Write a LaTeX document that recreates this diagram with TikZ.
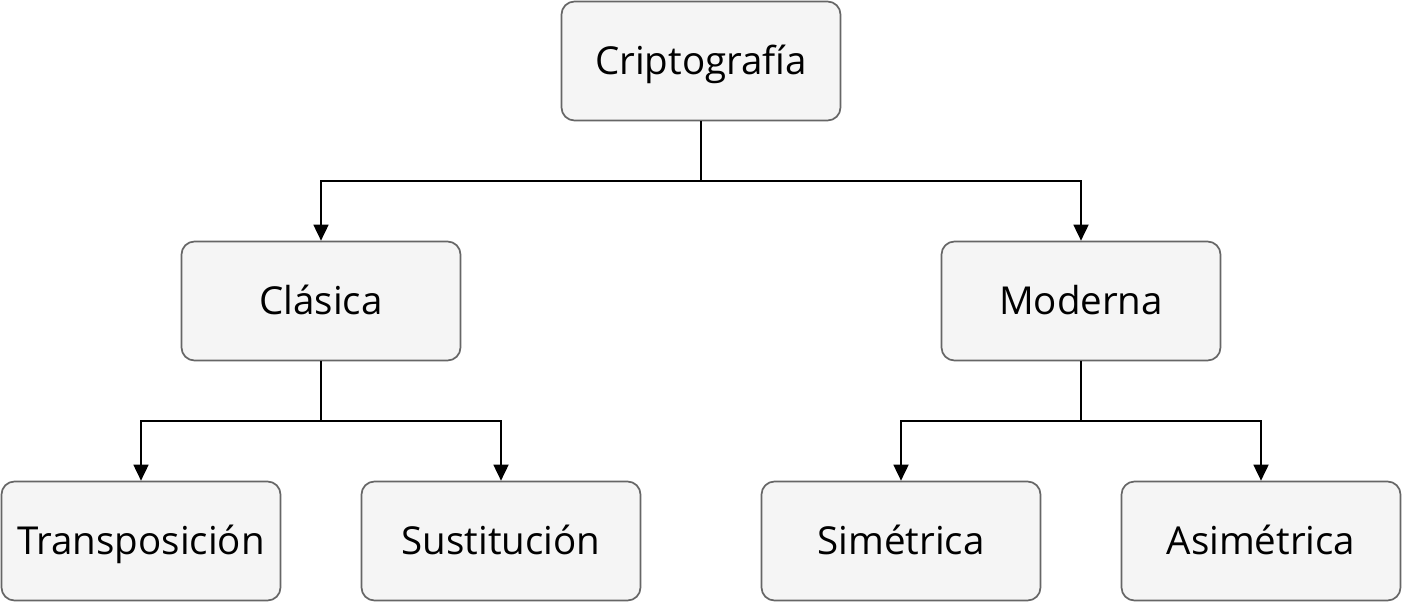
\documentclass[tikz,border=0pt]{standalone}
\usepackage{fontspec}
\setmainfont{Open Sans}
\usetikzlibrary{arrows.meta}
\definecolor{boxfill}{HTML}{F5F5F5}
\definecolor{boxdraw}{HTML}{666666}
\tikzset{
  box/.style={draw=boxdraw, fill=boxfill, rounded corners=13pt, line width=1.7pt,
    minimum width=279pt, minimum height=119pt, inner sep=0pt,
    font=\fontsize{38.5}{44}\selectfont, text=black, text height=27pt, text depth=0pt},
  conn/.style={line width=1.8pt, -{Triangle[length=16pt,width=15pt]}}
}
\begin{document}
\begin{tikzpicture}[x=1pt,y=1pt]
\useasboundingbox (0,0) rectangle (1402,-602);
\node[box] (cr) at (701,-61) {Criptografía};
\node[box] (cl) at (321,-301) {Clásica};
\node[box] (mo) at (1081,-301) {Moderna};
\node[box] (tr) at (141,-541) {Transposición};
\node[box] (su) at (501,-541) {Sustitución};
\node[box] (si) at (901,-541) {Simétrica};
\node[box] (as) at (1261,-541) {Asimétrica};
\draw[conn] (cr.south) -- ++(0,-60) -| (cl.north);
\draw[conn] (cr.south) -- ++(0,-60) -| (mo.north);
\draw[conn] (cl.south) -- ++(0,-60) -| (tr.north);
\draw[conn] (cl.south) -- ++(0,-60) -| (su.north);
\draw[conn] (mo.south) -- ++(0,-60) -| (si.north);
\draw[conn] (mo.south) -- ++(0,-60) -| (as.north);
\end{tikzpicture}
\end{document}
